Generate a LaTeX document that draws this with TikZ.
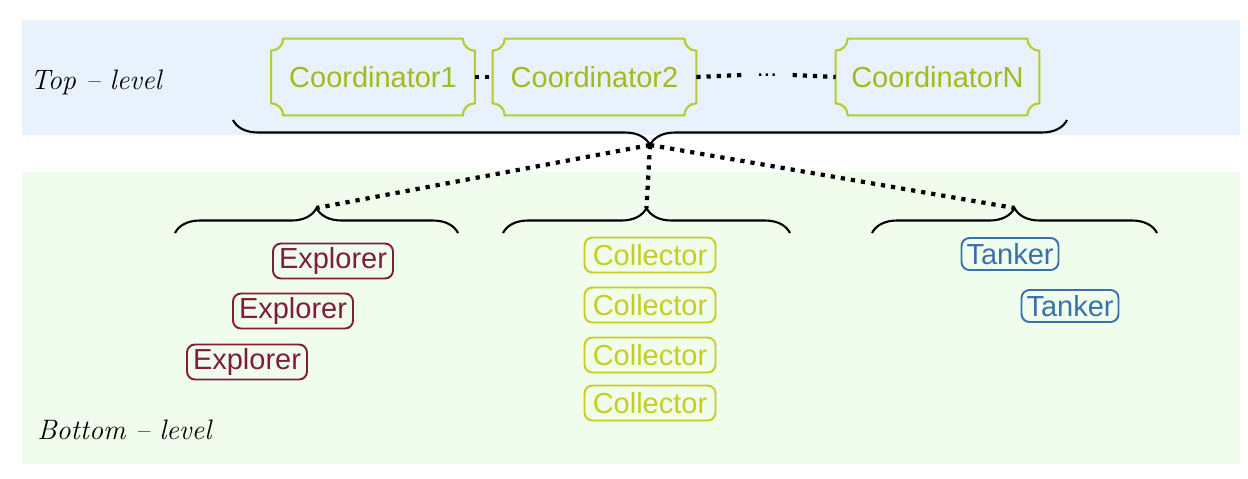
\documentclass[tikz,border=0pt]{standalone}
\usepackage{fontspec}
\newfontfamily\agentfont{Liberation Sans}
\usepackage{xcolor}
\usepackage{tikz}
\usetikzlibrary{calc,decorations.pathreplacing}

\definecolor{topbg}{HTML}{E8F2FD}
\definecolor{botbg}{HTML}{F0FCEC}
\definecolor{coordgreen}{HTML}{A2BB1C}
\definecolor{coordline}{HTML}{B6CC2C}
\definecolor{explred}{HTML}{7E1E3A}
\definecolor{collyellow}{HTML}{C6CF1E}
\definecolor{tankblue}{HTML}{3A71AB}

% frame with inward (notched) corners round a node
\newcommand{\notchframe}[1]{%
  \draw[coordline, line width=1.2pt]
    ($(#1.north west)+(0.24cm,0)$) -- ($(#1.north east)+(-0.24cm,0)$)
    arc[start angle=180, end angle=270, radius=0.24cm] -- ($(#1.south east)+(0,0.24cm)$)
    arc[start angle=90, end angle=180, radius=0.24cm] -- ($(#1.south west)+(0.24cm,0)$)
    arc[start angle=0, end angle=90, radius=0.24cm] -- ($(#1.north west)+(0,-0.24cm)$)
    arc[start angle=270, end angle=360, radius=0.24cm] -- cycle;}

\begin{document}
\begin{tikzpicture}[x=0.02cm, y=0.02cm,
    coordbox/.style={minimum width=4.06cm, minimum height=1.52cm, inner sep=0pt, text=coordgreen, font=\agentfont\fontsize{16.5}{20}\selectfont},
    agent/.style={draw, rounded corners=0.16cm, line width=1.1pt, minimum height=0.7cm, inner sep=0pt, font=\agentfont\fontsize{16.5}{20}\selectfont},
    explorer/.style={agent, draw=explred, text=explred, minimum width=2.4cm},
    collector/.style={agent, draw=collyellow, text=collyellow, minimum width=2.62cm},
    tanker/.style={agent, draw=tankblue, text=tankblue, minimum width=1.94cm, minimum height=0.64cm},
    dotline/.style={line width=2.4pt, dash pattern=on 2.4pt off 3.4pt},
    upbrace/.style={decorate, decoration={brace, amplitude=0.5cm}, line width=1.2pt},
    downbrace/.style={decorate, decoration={brace, mirror, amplitude=0.5cm}, line width=1.2pt},
    level/.style={font=\itshape\fontsize{16}{20}\selectfont, anchor=west, inner sep=0pt}
]
\useasboundingbox (0,0) rectangle (1248,-478);

% bands
\fill[topbg] (22,-20) rectangle (1240,-135);
\fill[botbg] (22,-172) rectangle (1240,-464);

\node[level] (toplabel) at (30,-82) {Top -- level};
\node[level] (botlabel) at (37,-430) {Bottom -- level};

% top level
\node[coordbox] (c1) at (373,-77) {Coordinator1};
\node[coordbox] (c2) at (594.5,-77) {Coordinator2};
\node[coordbox] (cN) at (937.5,-77) {CoordinatorN};
\node[font=\agentfont\fontsize{14}{16}\selectfont, inner ysep=1pt, inner xsep=0.3cm] (gap) at (767,-75) {...};
\notchframe{c1}
\notchframe{c2}
\notchframe{cN}

\draw[dotline] (c1.east) -- (c2.west);
\draw[dotline] (c2.east) -- (gap.west);
\draw[dotline] (gap.east) -- (cN.west);

% braces
\coordinate (topL) at (233,-120);
\coordinate (topR) at (1067,-120);
\coordinate (topTip) at ($(topL)!0.5!(topR)+(0,-0.5cm)$);
\draw[downbrace] (topL) -- (topR);

\coordinate (exL) at (175,-233);
\coordinate (exR) at (458,-233);
\coordinate (exTip) at ($(exL)!0.5!(exR)+(0,0.5cm)$);
\draw[upbrace] (exL) -- (exR);

\coordinate (colL) at (503,-233);
\coordinate (colR) at (790,-233);
\coordinate (colTip) at ($(colL)!0.5!(colR)+(0,0.5cm)$);
\draw[upbrace] (colL) -- (colR);

\coordinate (tkL) at (872,-233);
\coordinate (tkR) at (1157,-233);
\coordinate (tkTip) at ($(tkL)!0.5!(tkR)+(0,0.5cm)$);
\draw[upbrace] (tkL) -- (tkR);

\draw[dotline] (topTip) -- (exTip);
\draw[dotline] (topTip) -- (colTip);
\draw[dotline] (topTip) -- (tkTip);

% bottom level
\node[explorer] (ex1) at (333,-261) {Explorer};
\node[explorer] (ex2) at (293,-311) {Explorer};
\node[explorer] (ex3) at (247,-362) {Explorer};

\node[collector] (col1) at (650,-255) {Collector};
\node[collector] (col2) at (650,-305) {Collector};
\node[collector] (col3) at (650,-355) {Collector};
\node[collector] (col4) at (650,-403) {Collector};

\node[tanker] (tk1) at (1010,-254) {Tanker};
\node[tanker] (tk2) at (1070,-306) {Tanker};
\end{tikzpicture}
\end{document}
